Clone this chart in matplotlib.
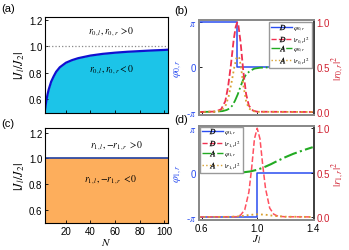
import numpy as np
import matplotlib
matplotlib.use("Agg")
import matplotlib.pyplot as plt
from matplotlib.lines import Line2D

plt.rcParams['font.family'] = ['Liberation Sans', 'DejaVu Sans']
plt.rcParams['mathtext.fontset'] = 'stix'
plt.rcParams['font.size'] = 7

# ---------------- data ----------------
# panel (a): boundary |J_l/J_2| vs N
N_a = [3, 4, 5, 6, 8, 10, 12, 15, 20, 25, 30, 40, 50, 60, 70, 80, 90, 100, 103]
ratio_a = [0.515, 0.58, 0.63, 0.67, 0.73, 0.77, 0.805, 0.84, 0.875, 0.895, 0.91,
           0.93, 0.943, 0.952, 0.959, 0.964, 0.969, 0.973, 0.975]
# panel (c): boundary is flat at 1
N_c = [3, 103]
ratio_c = [1.0, 1.0]

# panel (b)
xb_Dphi = [0.58, 0.856, 0.856, 1.4]
yb_Dphi = [np.pi, np.pi, 0.0, 0.0]
xb_Dr = [0.58, 0.70, 0.74, 0.77, 0.79, 0.81, 0.83, 0.845, 0.856, 0.865, 0.88,
         0.90, 0.92, 0.94, 0.97, 1.0, 1.4]
yb_Dr = [0.0, 0.005, 0.03, 0.12, 0.28, 0.52, 0.80, 0.95, 1.0, 0.96, 0.78,
         0.45, 0.20, 0.07, 0.015, 0.003, 0.0]
xb_Aphi = [0.58, 0.70, 0.75, 0.78, 0.80, 0.82, 0.84, 0.86, 0.88, 0.90, 0.92,
           0.95, 0.98, 1.02, 1.1, 1.4]
yb_Aphi = [-3.14, -3.12, -3.08, -3.0, -2.9, -2.7, -2.35, -1.9, -1.35, -0.85,
           -0.5, -0.25, -0.1, -0.04, -0.01, 0.0]
xb_Ar = [0.58, 0.70, 0.745, 0.775, 0.795, 0.815, 0.835, 0.85, 0.862, 0.872,
         0.885, 0.90, 0.92, 0.94, 0.97, 1.0, 1.4]
yb_Ar = [0.0, 0.004, 0.02, 0.08, 0.18, 0.33, 0.50, 0.60, 0.62, 0.60, 0.48,
         0.30, 0.12, 0.04, 0.01, 0.002, 0.0]

# panel (d)
xd_Dphi = [0.58, 1.0, 1.0, 1.4]
yd_Dphi = [-np.pi, -np.pi, 0.0, 0.0]
xd_Dr = [0.58, 0.85, 0.88, 0.91, 0.94, 0.96, 0.98, 1.0, 1.02, 1.04, 1.06,
         1.09, 1.12, 1.15, 1.2, 1.4]
yd_Dr = [0.0, 0.003, 0.02, 0.08, 0.28, 0.55, 0.88, 1.0, 0.88, 0.58, 0.32,
         0.10, 0.03, 0.008, 0.002, 0.0]
xd_Aphi = [0.58, 0.8, 0.9, 0.95, 1.0, 1.05, 1.1, 1.13, 1.2, 1.26, 1.3, 1.35, 1.4]
yd_Aphi = [0.0, 0.0, 0.02, 0.08, 0.2, 0.38, 0.6, 0.75, 1.08, 1.33, 1.47, 1.64, 1.8]
xd_Ar = [0.58, 0.8, 0.88, 0.94, 1.0, 1.06, 1.12, 1.2, 1.4]
yd_Ar = [0.0, 0.001, 0.008, 0.022, 0.03, 0.025, 0.012, 0.003, 0.0]

# ---------------- styles ----------------
c_blue = '#2a4df0'
c_red = '#f03050'
c_green = '#22aa22'
c_orange = '#d8a030'
c_cyan = '#1cc4e8'
c_fill_or = '#fdae5c'

fig = plt.figure(figsize=(3.49, 2.51), dpi=100)

def style_left(ax):
    ax.tick_params(direction='in', length=2.5, width=0.6, labelsize=7, pad=2)
    for s in ax.spines.values():
        s.set_linewidth(0.8)

# ---- (a)
axa = fig.add_axes([0.129, 0.546, 0.352, 0.382])
axa.fill_between(N_a, 0.4, ratio_a, color=c_cyan, lw=0)
axa.plot(N_a, ratio_a, color='#1010d0', lw=1.6)
axa.axhline(1.0, color='#888888', ls=':', lw=0.9)
axa.set_xlim(3, 103)
axa.set_ylim(0.49, 1.225)
axa.set_xticks([20, 40, 60, 80, 100])
axa.set_xticklabels([])
axa.set_yticks([0.6, 0.8, 1.0, 1.2])
style_left(axa)
axa.set_ylabel(r'$|J_l/J_2|$', fontsize=9, labelpad=1)
axa.text(57, 1.12, r'$r_{0,l}, r_{0,r}\ >\!0$', fontsize=7, ha='center', va='center')
axa.text(57, 0.83, r'$r_{0,l}, r_{0,r}<0$', fontsize=7, ha='center', va='center')

# ---- (c)
axc = fig.add_axes([0.129, 0.108, 0.352, 0.378])
axc.fill_between(N_c, 0.4, ratio_c, color=c_fill_or, lw=0)
axc.plot(N_c, ratio_c, color='#2040a0', lw=1.2)
axc.set_xlim(3, 103)
axc.set_ylim(0.5, 1.235)
axc.set_xticks([20, 40, 60, 80, 100])
axc.set_yticks([0.6, 0.8, 1.0, 1.2])
style_left(axc)
axc.set_ylabel(r'$|J_l/J_2|$', fontsize=9, labelpad=1)
axc.set_xlabel(r'$N$', fontsize=8, labelpad=0)
axc.text(61, 1.11, r'$r_{1,l}, \mathrm{-}r_{1,r}\ >\!0$', fontsize=7, ha='center', va='center')
axc.text(56, 0.84, r'$r_{1,l}, \mathrm{-}r_{1,r}\ <\!0$', fontsize=7, ha='center', va='center')

# ---- (b) and (d)
ylimL = (-3.35, 3.30)
ylimR = ((ylimL[0] + np.pi) / (2 * np.pi), (ylimL[1] + np.pi) / (2 * np.pi))

def style_right(ax, ax2, show_xlabels):
    ax.set_xlim(0.58, 1.41)
    ax.set_ylim(*ylimL)
    ax2.set_ylim(*ylimR)
    ax.set_yticks([-np.pi, 0, np.pi])
    ax.set_yticklabels([r'-$\pi$', '0', r'$\pi$'], color=c_blue)
    ax.set_xticks([0.6, 1.0, 1.4])
    if not show_xlabels:
        ax.set_xticklabels([])
    ax2.set_yticks([0.0, 0.5, 1.0])
    ax2.set_yticklabels(['0.0', '0.5', '1.0'], color='#d02030')
    ax.tick_params(direction='in', length=2.5, width=0.6, labelsize=7, pad=2)
    ax2.tick_params(direction='in', length=2.5, width=0.6, labelsize=7, pad=1.5)
    for a in (ax, ax2):
        for s in a.spines.values():
            s.set_linewidth(1.4)
            s.set_color('#8a8a8a')
    ax2.spines['right'].set_color('#404040')

def legend_handles(sub):
    h = [
        Line2D([], [], color=c_blue, ls='-', lw=1.0, marker='$D$', ms=4,
               mfc='k', mec='k', mew=0.2),
        Line2D([], [], color=c_red, ls='--', lw=1.0, marker='$D$', ms=4,
               mfc='k', mec='k', mew=0.2),
        Line2D([], [], color=c_green, ls='-.', lw=1.0, marker='$A$', ms=4,
               mfc='k', mec='k', mew=0.2),
        Line2D([], [], color=c_orange, ls=':', lw=1.0, marker='$A$', ms=4,
               mfc='k', mec='k', mew=0.2),
    ]
    labels = [r'$\varphi_{%s,r}$' % sub, r'$|r_{%s,r}|^2$' % sub,
              r'$\varphi_{%s,r}$' % sub, r'$|r_{%s,r}|^2$' % sub]
    return h, labels

# (b)
axb = fig.add_axes([0.570, 0.538, 0.330, 0.378])
axb2 = axb.twinx()
axb.plot(xb_Dphi, yb_Dphi, color=c_blue, lw=1.1, zorder=3)
axb.plot(xb_Aphi, yb_Aphi, color=c_green, ls='-.', lw=1.3, zorder=3)
axb2.plot(xb_Dr, yb_Dr, color=c_red, ls='--', lw=1.3)
axb2.plot(xb_Ar, yb_Ar, color=c_orange, ls=':', lw=1.3)
style_right(axb, axb2, False)
axb.set_ylabel(r'$\varphi_{0,r}$', color=c_blue, fontsize=8, labelpad=1)
axb2.set_ylabel(r'$|r_{0,r}|^2$', color='#d02030', fontsize=8, labelpad=0)
h, l = legend_handles('0')
axb2.legend(h, l, loc='upper right', fontsize=5, handlelength=3.0,
            handletextpad=0.2, labelspacing=0.15, borderpad=0.3,
            borderaxespad=0.3, frameon=True, fancybox=False, edgecolor='#999999',
            framealpha=1)

# (d)
axd = fig.add_axes([0.570, 0.120, 0.330, 0.374])
axd2 = axd.twinx()
axd.plot(xd_Dphi, yd_Dphi, color=c_blue, lw=1.1, zorder=3)
axd.plot(xd_Aphi, yd_Aphi, color=c_green, ls='-.', lw=1.5, zorder=3)
axd2.plot(xd_Dr, yd_Dr, color='#ff5060', ls='--', lw=1.1)
axd2.plot(xd_Ar, yd_Ar, color=c_orange, ls=':', lw=1.3)
style_right(axd, axd2, True)
axd.set_ylabel(r'$\varphi_{1,r}$', color=c_blue, fontsize=8, labelpad=1)
axd2.set_ylabel(r'$|r_{1,r}|^2$', color='#d02030', fontsize=8, labelpad=0)
axd.set_xlabel(r'$J_l$', fontsize=8, labelpad=0)
h, l = legend_handles('1')
axd2.legend(h, l, loc='upper left', fontsize=5, handlelength=3.0,
            handletextpad=0.2, labelspacing=0.15, borderpad=0.3,
            borderaxespad=0.1, frameon=True, fancybox=False, edgecolor='#999999',
            framealpha=1)

# panel labels
fig.text(0.005, 0.965, '(a)', fontsize=8, va='center')
fig.text(0.005, 0.505, '(c)', fontsize=8, va='center')
fig.text(0.50, 0.955, '(b)', fontsize=8, va='center')
fig.text(0.50, 0.52, '(d)', fontsize=8, va='center')

fig.savefig('out.png', dpi=100)
